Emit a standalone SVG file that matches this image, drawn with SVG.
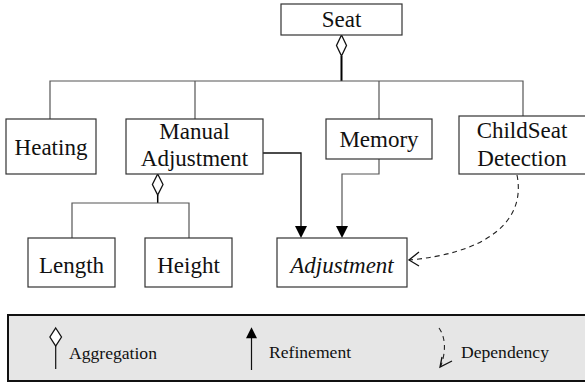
<svg xmlns="http://www.w3.org/2000/svg" width="585" height="383" viewBox="0 0 585 383">
<style>
.box{fill:#fff;stroke:#333;stroke-width:1.2}
.t{font-family:'Liberation Serif','Times New Roman',serif;font-size:23px;fill:#111;text-anchor:middle}
.lg{font-family:'Liberation Serif','Times New Roman',serif;font-size:17.6px;fill:#111}
.ln{fill:none;stroke:#555;stroke-width:1.2}
.ar{fill:none;stroke:#111;stroke-width:1.3}
.dia{fill:#fff;stroke:#111;stroke-width:1.3}
.tri{fill:#000}
.dash{fill:none;stroke:#222;stroke-width:1.1;stroke-dasharray:5,4}
</style>
<rect width="585" height="383" fill="#fff"/>
<g id="connectors">
  <line x1="341.5" y1="56" x2="341.5" y2="81" stroke="#000" stroke-width="2"/>
  <path class="dia" d="M341.5,35 L346.5,45.5 L341.5,56 L336.5,45.5 Z"/>
  <path class="ln" d="M50,119 V81 H523 V116 M195,81 V119 M379,81 V119"/>
  <path class="dia" d="M157.7,174 L163,184.5 L157.7,195 L152.4,184.5 Z"/>
  <line x1="157.7" y1="195" x2="157.7" y2="203" stroke="#000" stroke-width="1.5"/>
  <path class="ln" d="M72,238 V203 H189 V238"/>
  <path class="ar" d="M263,153 H301 V227"/>
  <path class="tri" d="M301,238 L295,226 L307,226 Z"/>
  <path class="ln" d="M379,159 V174 H342 V227"/>
  <path class="tri" d="M342,238 L336,226 L348,226 Z"/>
  <path class="dash" d="M517,175 C527,225 480,254 409,260"/>
  <path class="ar" d="M419,252 L409,260 L419,266"/>
</g>
<g id="seat"><rect class="box" x="281" y="4" width="121" height="31"/><text class="t" x="341.5" y="27">Seat</text></g>
<g id="heating"><rect class="box" x="6" y="119" width="90" height="55"/><text class="t" x="51" y="155">Heating</text></g>
<g id="manual-adjustment"><rect class="box" x="126" y="119" width="137" height="55"/><text class="t" x="194.5" y="139">Manual</text><text class="t" x="194.5" y="166">Adjustment</text></g>
<g id="memory"><rect class="box" x="326" y="119" width="106" height="40"/><text class="t" x="379" y="147">Memory</text></g>
<g id="childseat-detection"><rect class="box" x="459" y="116" width="132" height="58"/><text class="t" x="522" y="138">ChildSeat</text><text class="t" x="522" y="166">Detection</text></g>
<g id="length"><rect class="box" x="28" y="238" width="87" height="49"/><text class="t" x="71.5" y="273">Length</text></g>
<g id="height"><rect class="box" x="145" y="238" width="87" height="49"/><text class="t" x="188.5" y="273">Height</text></g>
<g id="adjustment"><rect class="box" x="277" y="238" width="130" height="49"/><text class="t" x="342" y="273" font-style="italic">Adjustment</text></g>
<g id="legend">
  <rect x="8" y="315" width="590" height="66" fill="#e6e6e6" stroke="#111" stroke-width="2"/>
  <path class="dia" d="M55.7,328 L61.5,337 L55.7,346 L49.9,337 Z"/>
  <line x1="55.7" y1="346" x2="55.7" y2="369" stroke="#111" stroke-width="1.2"/>
  <text class="lg" x="69" y="358.5">Aggregation</text>
  <line x1="251.5" y1="337" x2="251.5" y2="370" stroke="#111" stroke-width="1.2"/>
  <path class="tri" d="M251.5,327.3 L246,338.3 L257,338.3 Z"/>
  <text class="lg" x="269" y="357.5">Refinement</text>
  <path class="dash" d="M439,328 C446,338 446,352 440.5,367"/>
  <path class="ar" d="M442,357 L440,367 L452,361"/>
  <text class="lg" x="461" y="357.5">Dependency</text>
</g>
</svg>
